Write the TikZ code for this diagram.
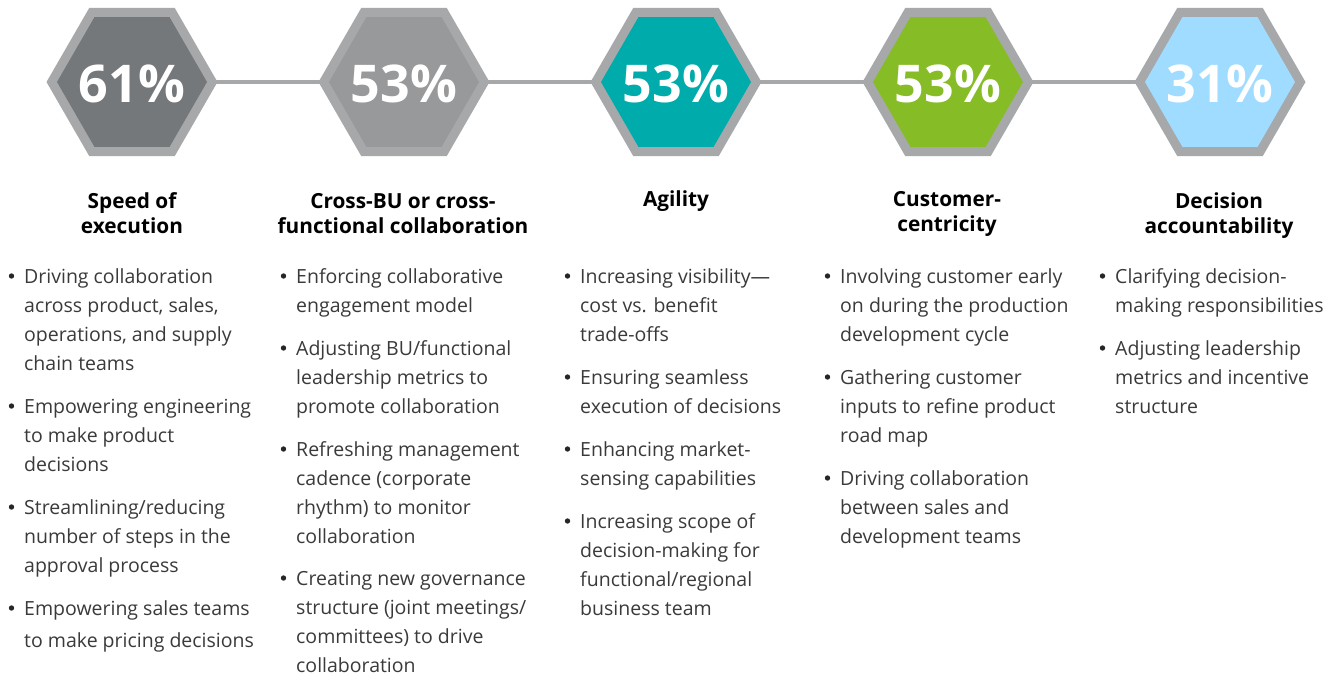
\documentclass[tikz,border=0pt]{standalone}
\usepackage{fontspec}
\setmainfont{Open Sans}
\definecolor{hexborder}{HTML}{A7A8AA}
\definecolor{linegray}{HTML}{A7A8AA}
\definecolor{cA}{HTML}{75787B}
\definecolor{cB}{HTML}{97999B}
\definecolor{cC}{HTML}{00ABAB}
\definecolor{cD}{HTML}{86BC25}
\definecolor{cE}{HTML}{A0DCFF}
\definecolor{bodytext}{HTML}{3A3A3A}
\newcommand\bodyfont{\fontsize{19.5pt}{29pt}\selectfont\raggedright}
\newcommand\headfont{\fontsize{20.8pt}{25pt}\selectfont\bfseries\centering}
\tikzset{
  pct/.style={anchor=base, inner sep=0pt, text=white, font=\fontsize{52pt}{52pt}\selectfont\bfseries},
  headnode/.style={anchor=base, inner sep=0pt, text=black},
  bodynode/.style={anchor=base west, inner sep=0pt, text=bodytext},
  bulnode/.style={circle, fill=black!85, inner sep=0pt, minimum size=5.4pt},
  conn/.style={draw=linegray, line width=4pt},
}
% hexagon: #1 centre x, #2 fill colour
\newcommand\hexa[2]{%
  \begin{scope}[shift={(#1,82)}]
    \fill[hexborder] (0:85.5) -- (60:85.5) -- (120:85.5) -- (180:85.5) -- (240:85.5) -- (300:85.5) -- cycle;
    \fill[#2] (0:75) -- (60:75) -- (120:75) -- (180:75) -- (240:75) -- (300:75) -- cycle;
  \end{scope}}
% bullet item: #1 name, #2 x, #3 baseline y, #4 text
\newcommand\itm[4]{%
  \node[bulnode] (#1b) at (#2-12.5,#3-7) {};
  \node[bodynode] (#1) at (#2,#3) {\parbox[t]{300pt}{\bodyfont #4}};}
% heading: #1 name, #2 x, #3 baseline y, #4 text
\newcommand\hd[4]{%
  \node[headnode] (#1) at (#2,#3) {\parbox[t]{300pt}{\headfont #4}};}
\begin{document}
\begin{tikzpicture}[x=1pt,y=-1pt]
\useasboundingbox (0,0) rectangle (1334,673);
\fill[white] (0,0) rectangle (1334,673);
% centres
\coordinate (h1) at (132,82);
\coordinate (h2) at (404,82);
\coordinate (h3) at (676,82);
\coordinate (h4) at (948,82);
\coordinate (h5) at (1220,82);
% connectors
\draw[conn] (h1) -- (h2);
\draw[conn] (h2) -- (h3);
\draw[conn] (h3) -- (h4);
\draw[conn] (h4) -- (h5);
% hexagons
\hexa{132}{cA}
\hexa{404}{cB}
\hexa{676}{cC}
\hexa{948}{cD}
\hexa{1220}{cE}
% percentages
\node[pct] (p1) at (132,102) {61\%};
\node[pct] (p2) at (404,102) {53\%};
\node[pct] (p3) at (676,102) {53\%};
\node[pct] (p4) at (948,102) {53\%};
\node[pct] (p5) at (1220,102) {31\%};
% headings
\hd{t1}{132}{208}{Speed of\\execution}
\hd{t2}{403}{208}{Cross-BU or cross-\\functional collaboration}
\hd{t3}{676}{206}{Agility}
\hd{t4}{947}{206}{Customer-\\centricity}
\hd{t5}{1219}{208}{Decision\\accountability}
% column 1
\itm{a1}{24}{283}{Driving collaboration\\across product, sales,\\operations, and supply\\chain teams}
\itm{a2}{24}{413}{Empowering engineering\\to make product\\decisions}
\itm{a3}{24}{514}{Streamlining/reducing\\number of steps in the\\approval process}
\itm{a4}{24}{615}{Empowering sales teams\\[3pt]to make pricing decisions}
% column 2
\itm{b1}{296}{283}{Enforcing collaborative\\engagement model}
\itm{b2}{296}{355}{Adjusting BU/functional\\leadership metrics to\\promote collaboration}
\itm{b3}{296}{456}{Refreshing management\\cadence (corporate\\rhythm) to monitor\\collaboration}
\itm{b4}{296}{585}{Creating new governance\\structure (joint meetings/\\committees) to drive\\collaboration}
% column 3
\itm{c1}{580}{283}{Increasing visibility—\\cost vs. benefit\\trade-offs}
\itm{c2}{580}{384}{Ensuring seamless\\execution of decisions}
\itm{c3}{580}{456}{Enhancing market-\\sensing capabilities}
\itm{c4}{580}{528}{Increasing scope of\\decision-making for\\functional/regional\\business team}
% column 4
\itm{d1}{840}{283}{Involving customer early\\on during the production\\development cycle}
\itm{d2}{840}{384}{Gathering customer\\inputs to refine product\\road map}
\itm{d3}{840}{485}{Driving collaboration\\between sales and\\development teams}
% column 5
\itm{e1}{1115}{283}{Clarifying decision-\\making responsibilities}
\itm{e2}{1115}{355}{Adjusting leadership\\metrics and incentive\\structure}
\end{tikzpicture}
\end{document}
